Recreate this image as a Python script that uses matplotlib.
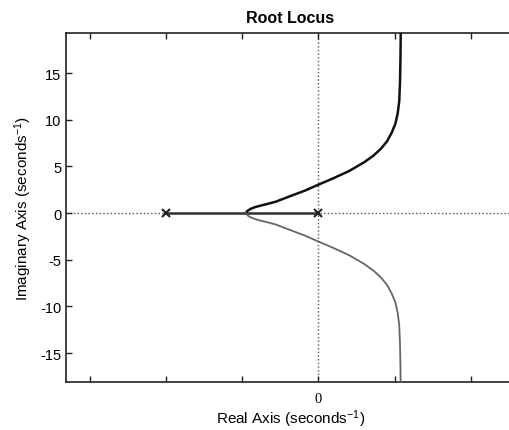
import numpy as np
import matplotlib
matplotlib.use('Agg')
import matplotlib.pyplot as plt

plt.rcParams['font.family'] = 'Liberation Sans'
plt.rcParams['mathtext.fontset'] = 'custom'
plt.rcParams['mathtext.rm'] = 'Liberation Sans'
plt.rcParams['mathtext.default'] = 'regular'
plt.rcParams['axes.unicode_minus'] = False

# open loop poles
poles_re = [-10, 0]
poles_im = [0, 0]

# real axis part of the locus
seg_re = [-10, -4.75]
seg_re2 = [-4.75, 0]

# complex branch (upper half)
branch_re = [-4.75, -4.72, -4.62, -4.45, -4.2, -3.9, -3.5, -2.8, -1.8, -0.9, 0.0,
             1.0, 2.0, 3.0, 3.6, 4.1, 4.5, 4.8, 5.05, 5.2, 5.3, 5.35, 5.38, 5.4]
branch_im = [0.0, 0.12, 0.28, 0.45, 0.62, 0.76, 0.92, 1.22, 1.85, 2.4, 3.05,
             3.75, 4.5, 5.45, 6.15, 6.9, 7.7, 8.6, 9.6, 10.7, 12.0, 14.0, 16.5, 19.5]

x_ticks = [-15, -10, -5, 0, 5, 10]
x_ticklabels = ['', '', '', '0', '', '']
y_ticks = [-15, -10, -5, 0, 5, 10, 15]

fig = plt.figure(figsize=(5.1, 4.31), dpi=100)
ax = fig.add_axes([66/510, 1-383/431, 1-66/510 + 0.01, (383-34)/431])

ax.axvline(0, color='#555555', lw=1.0, ls=':', zorder=1)
ax.axhline(0, color='#555555', lw=1.0, ls=':', zorder=1)

ax.plot(seg_re, [0, 0], color='#333333', lw=1.8, zorder=2)
ax.plot(seg_re2, [0, 0], color='#333333', lw=1.8, zorder=2)
ax.plot(branch_re, branch_im, color='#111111', lw=1.8, zorder=3)
ax.plot(branch_re, -np.array(branch_im), color='#666666', lw=1.3, zorder=3)
ax.plot(poles_re, poles_im, 'x', color='#222222', ms=6, mew=1.5, zorder=4)

ax.set_xlim(-16.56, 12.9)
ax.set_ylim(-18.1, 19.3)
ax.set_xticks(x_ticks)
ax.set_xticklabels(x_ticklabels, fontfamily='Liberation Serif', fontsize=11)
ax.set_yticks(y_ticks)
ax.tick_params(axis='both', direction='in', length=4, width=1, labelsize=10.5,
               top=True, right=False, color='#222222')
ax.tick_params(axis='x', pad=7)
ax.spines['right'].set_visible(False)
for s in ['left', 'bottom', 'top']:
    ax.spines[s].set_linewidth(1.2)
    ax.spines[s].set_color('#222222')

ax.set_title('Root Locus', fontsize=11.5, fontweight='bold', pad=8)
ax.set_xlabel('Real Axis (seconds$^{-1}$)', fontsize=11, labelpad=2)
ax.set_ylabel('Imaginary Axis (seconds$^{-1}$)', fontsize=11, labelpad=4)

fig.savefig('out.png', dpi=100)
